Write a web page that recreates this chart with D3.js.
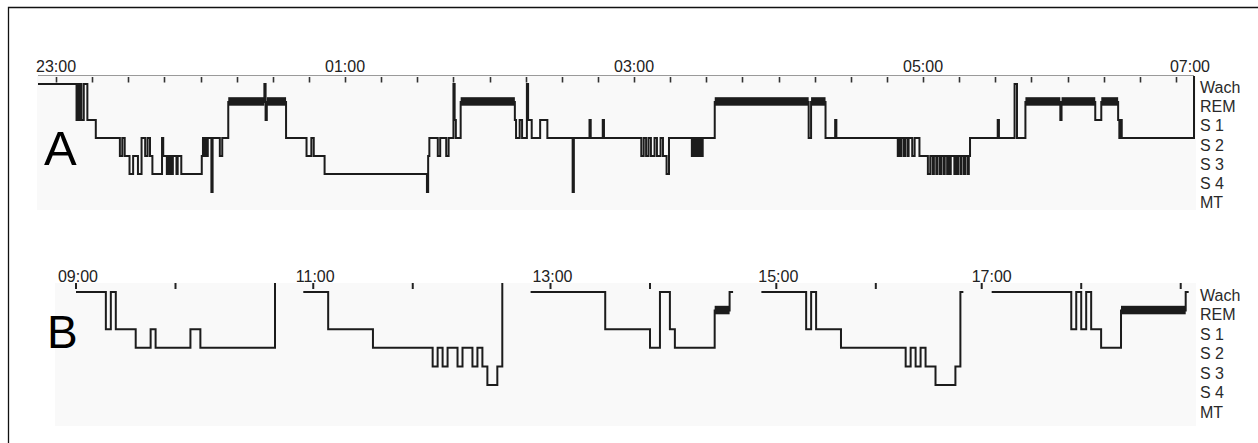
<!DOCTYPE html>
<html>
<head>
<meta charset="utf-8">
<script src="https://cdn.jsdelivr.net/npm/d3@7"></script>
<style>
  body { margin: 0; background: #fff; }
  svg { display: block; font-family: "Liberation Sans", Arial, sans-serif; }
</style>
</head>
<body>
<svg id="chart" width="1258" height="443"></svg>
<script>
var stageCodes = ["W", "R", "1", "2", "3", "4", "M"];
var stageLabels = ["Wach", "REM", "S 1", "S 2", "S 3", "S 4", "MT"];

// night recording (A): 30 s epochs counted from lights off
var nightStart = "22:52:30";
var nightEnd = 960; // epochs
var nightTickLabels = ["23:00", "01:00", "03:00", "05:00", "07:00"];
var nightStages = [
  [0, "W"], [32, "1"], [33, "W"], [34, "1"], [35, "W"], [36, "1"], [38, "W"], [41, "1"],
  [48, "2"], [68, "3"], [70, "2"], [72, "3"], [76, "4"], [79, "3"], [83, "4"],
  [86, "2"], [89, "3"], [91, "2"], [93, "3"], [95, "4"], [103, "2"], [104, "3"],
  [107, "4"], [108, "3"], [109, "4"], [110, "3"], [111, "4"], [112, "3"], [115, "4"], [116, "3"], [119, "4"],
  [136, "3"], [137, "2"], [138, "3"], [139, "2"], [140, "3"], [141, "2"],
  [144, "M"], [145, "2"], [151, "3"], [153, "2"],
  [158, "R"], [188, "W"], [189, "1"], [190, "R"],
  [206, "2"], [223, "3"], [227, "2"], [229, "3"], [238, "4"],
  [323, "M"], [324, "3"], [325, "2"], [332, "3"], [334, "2"], [339, "3"], [341, "2"],
  [345, "W"], [346, "1"], [347, "2"],
  [351, "R"],
  [396, "1"], [397, "2"], [400, "1"], [402, "2"], [406, "W"], [407, "1"], [410, "2"],
  [417, "1"], [423, "2"], [444, "M"], [445, "2"], [458, "1"], [459, "2"], [469, "1"], [470, "2"],
  [501, "3"], [503, "2"], [505, "3"], [507, "2"], [509, "3"], [512, "2"], [514, "3"], [517, "2"],
  [519, "3"], [522, "4"], [524, "2"],
  [543, "3"], [544, "2"], [545, "3"], [546, "2"], [547, "3"], [548, "2"], [549, "3"], [550, "2"], [551, "3"], [552, "2"],
  [562, "R"], [640, "2"], [642, "R"],
  [654, "2"], [662, "1"], [663, "2"],
  [714, "3"], [715, "2"], [716, "3"], [717, "2"], [719, "3"], [720, "2"], [722, "3"], [723, "2"], [726, "3"], [728, "2"], [732, "3"],
  [739, "4"], [741, "3"], [743, "4"], [744, "3"], [746, "4"], [747, "3"], [749, "4"], [750, "3"],
  [752, "4"], [753, "3"], [755, "4"], [756, "3"], [757, "4"], [758, "3"], [761, "4"], [762, "3"],
  [763, "4"], [764, "3"], [766, "4"], [767, "3"], [769, "4"], [770, "3"], [772, "4"], [773, "3"],
  [774, "2"], [797, "1"], [798, "2"], [811, "W"], [813, "2"],
  [820, "R"], [849, "1"], [850, "R"], [878, "1"], [883, "R"],
  [897, "1"], [898, "2"], [899, "1"], [900, "2"],
  [960, "W"]
];

// daytime naps (B)
var napStarts = ["09:00:00", "10:59:00", "12:58:00", "14:58:30", "17:01:00"];
var napEnds = [40, 40, 40.7, 40.6, 39.6]; // epochs
var napTickLabels = ["09:00", "11:00", "13:00", "15:00", "17:00"];
var napStages = [
  [[0, "W"], [6, "1"], [7, "W"], [8, "1"], [12, "2"], [15, "1"], [16, "2"], [23, "1"], [25, "2"], [40, "W"]],
  [[0, "W"], [5, "1"], [14, "2"], [26, "3"], [27, "2"], [28, "3"], [29, "2"], [31, "3"], [32, "2"],
   [34, "3"], [35, "2"], [36, "3"], [37, "4"], [39, "3"], [40, "W"]],
  [[0, "W"], [15, "1"], [24, "2"], [26, "W"], [28, "1"], [29, "2"], [37, "R"], [40, "W"]],
  [[0, "W"], [9, "1"], [10, "W"], [11, "1"], [16, "2"], [29, "3"], [30, "2"], [31, "3"], [32, "2"],
   [33, "3"], [35, "4"], [39, "3"], [40, "W"]],
  [[0, "W"], [16, "1"], [17, "W"], [18, "1"], [19, "W"], [20, "1"], [22, "2"], [26, "R"], [39, "W"]]
];

var EPOCH = 30000;
var ink = "#1c1c1c";

function parseClock(s, night) {
  var p = s.split(":").map(Number);
  var day = (night && p[0] < 12) ? 2 : 1;
  return new Date(2000, 0, day, p[0], p[1], p[2] || 0);
}
function epochTime(start, e) { return new Date(start.getTime() + e * EPOCH); }

var svg = d3.select("#chart");

// outer frame (only top and left edge are inside the picture)
svg.append("path")
  .attr("d", "M8.5,443V7.5H1258")
  .attr("fill", "none")
  .attr("stroke", "#111")
  .attr("stroke-width", 1.3);

function drawHypnogram(g, points, endEpoch, start, x, y, closeTo) {
  var data = points.map(function (p) { return { t: epochTime(start, p[0]), s: p[1] }; });
  data.push({ t: epochTime(start, endEpoch), s: points[points.length - 1][1] });

  // REM as thick bar
  for (var i = 0; i < data.length - 1; i++) {
    if (data[i].s !== "R") continue;
    g.append("rect")
      .attr("x", x(data[i].t))
      .attr("y", y("R") - 4.8)
      .attr("width", x(data[i + 1].t) - x(data[i].t))
      .attr("height", 8.5)
      .attr("fill", ink);
  }

  g.append("path")
    .datum(data)
    .attr("fill", "none")
    .attr("stroke", ink)
    .attr("stroke-width", 2)
    .attr("d", d3.line()
      .x(function (d) { return x(d.t); })
      .y(function (d) { return y(d.s); })
      .curve(d3.curveStepAfter));

  // closing wake line runs up to the time axis
  var last = points[points.length - 1];
  if (closeTo !== undefined && last[1] === "W" && last[0] === endEpoch) {
    var xe = x(epochTime(start, endEpoch));
    g.append("line")
      .attr("x1", xe).attr("x2", xe)
      .attr("y1", y("W")).attr("y2", closeTo)
      .attr("stroke", ink)
      .attr("stroke-width", 2);
  }
}

function drawStageLabels(g, labelY) {
  g.selectAll(".stage-label")
    .data(stageCodes)
    .enter()
    .append("text")
    .classed("stage-label", true)
    .attr("x", 1200)
    .attr("y", function (c) { return labelY(c); })
    .attr("font-size", 16)
    .attr("fill", "#2a2a2a")
    .text(function (c, i) { return stageLabels[i]; });
}

// ---------- panel A ----------
var gA = svg.append("g");
var t0 = parseClock(nightStart, true);
var xA = d3.scaleTime()
  .domain([t0, epochTime(t0, nightEnd)])
  .range([38, 1194]);
var yA = d3.scalePoint().domain(stageCodes).range([84, 192]);

gA.append("rect")
  .attr("x", 37).attr("y", 76)
  .attr("width", 1159).attr("height", 134)
  .attr("fill", "#f9f9f9");

gA.append("line")
  .attr("x1", xA.range()[0]).attr("x2", xA.range()[1])
  .attr("y1", 75.5).attr("y2", 75.5)
  .attr("stroke", "#9a9a9a")
  .attr("stroke-width", 1);

gA.selectAll(".tick")
  .data(d3.timeMinute.every(15).range(xA.domain()[0], xA.domain()[1]))
  .enter()
  .append("line")
  .classed("tick", true)
  .attr("x1", function (d) { return Math.round(xA(d)) + 0.5; })
  .attr("x2", function (d) { return Math.round(xA(d)) + 0.5; })
  .attr("y1", 77).attr("y2", 82.5)
  .attr("stroke", "#333")
  .attr("stroke-width", 1.6);

gA.selectAll(".tick-label")
  .data(nightTickLabels)
  .enter()
  .append("text")
  .classed("tick-label", true)
  .attr("x", function (d) { return Math.min(xA(parseClock(d, true)), xA.range()[1] - 4); })
  .attr("y", 72)
  .attr("text-anchor", "middle")
  .attr("font-size", 16)
  .attr("fill", "#222")
  .text(function (d) { return d; });

drawHypnogram(gA, nightStages, nightEnd, t0, xA, yA, 76);

gA.append("text")
  .attr("x", 44).attr("y", 165)
  .attr("font-size", 49)
  .attr("fill", "#000")
  .text("A");

drawStageLabels(gA, d3.scalePoint().domain(stageCodes).range([93, 208.3]));

// ---------- panel B ----------
var gB = svg.append("g");
var yB = d3.scalePoint().domain(stageCodes).range([292, 403.6]);
var pxPerEpoch = 4.975;
var napGap = 28.3;

gB.append("rect")
  .attr("x", 55).attr("y", 283)
  .attr("width", 1141).attr("height", 143)
  .attr("fill", "#f9f9f9");

var napX = 76;
napStarts.forEach(function (s, i) {
  var start = parseClock(s, false);
  var end = epochTime(start, napEnds[i]);
  var width = napEnds[i] * pxPerEpoch;
  var x = d3.scaleTime().domain([start, end]).range([napX, napX + width]);
  var g = gB.append("g");

  var ticks = d3.timeMinute.every(10).range(
    new Date(start.getTime() - 2 * 60000), new Date(end.getTime() + 60000));
  g.selectAll(".tick")
    .data(ticks)
    .enter()
    .append("line")
    .classed("tick", true)
    .attr("x1", function (d) { return x(d); })
    .attr("x2", function (d) { return x(d); })
    .attr("y1", 283).attr("y2", 289)
    .attr("stroke", "#222")
    .attr("stroke-width", 2);

  var hour = parseClock(napTickLabels[i], false);
  g.append("text")
    .attr("x", Math.max(x(hour), napX - 2) + 2)
    .attr("y", 282)
    .attr("text-anchor", "middle")
    .attr("font-size", 16)
    .attr("fill", "#222")
    .text(napTickLabels[i]);

  drawHypnogram(g, napStages[i], napEnds[i], start, x, yB, 283);
  napX += width + napGap;
});

gB.append("text")
  .attr("x", 47).attr("y", 348)
  .attr("font-size", 46)
  .attr("fill", "#000")
  .text("B");

drawStageLabels(gB, d3.scalePoint().domain(stageCodes).range([300.5, 417.5]));
</script>
</body>
</html>
